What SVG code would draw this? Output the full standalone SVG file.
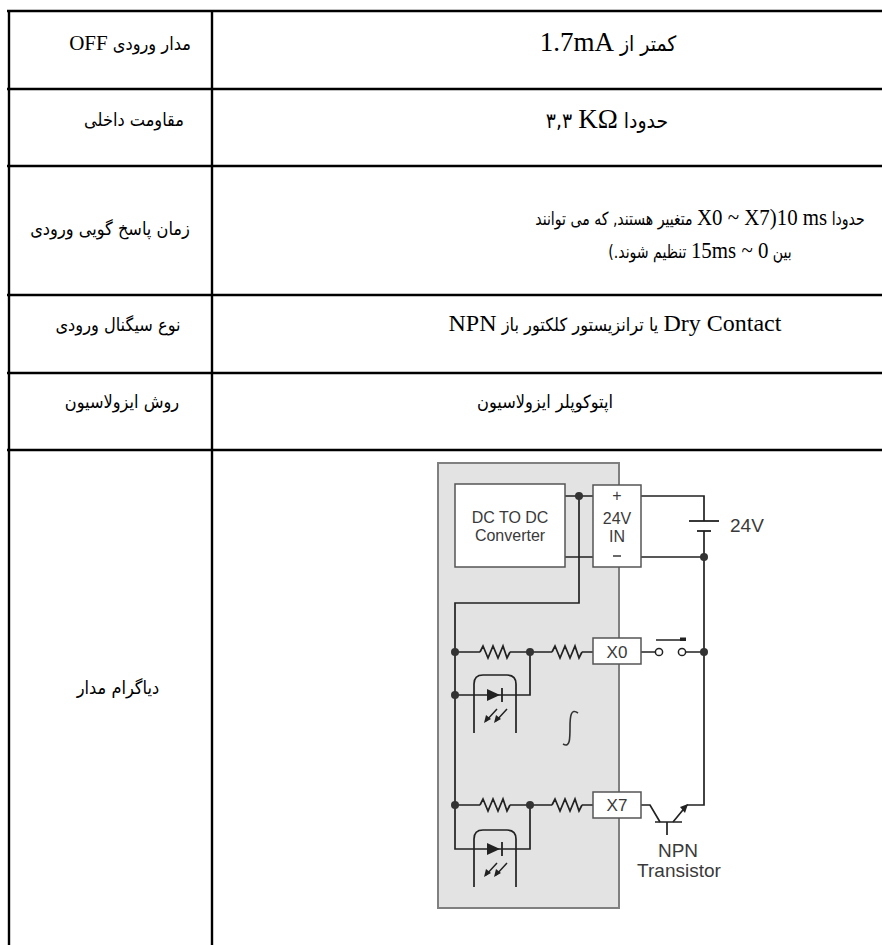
<svg xmlns="http://www.w3.org/2000/svg" width="882" height="945" viewBox="0 0 882 945">
<style>
.grid{stroke:#000;stroke-width:2.4;fill:none}
.t{font-family:"DejaVu Sans","Liberation Serif",serif;font-size:18px;font-stretch:condensed;fill:#000;text-anchor:middle}
.lat{font-family:"Liberation Serif","Times New Roman",serif;font-size:24px;font-stretch:normal}
.big{font-size:21px}
.big .lat{font-size:27px}
.w{stroke:#222;stroke-width:1.7;fill:none}
.dot{fill:#333}
.box{fill:#fff;stroke:#555;stroke-width:1.5}
.lbl{font-family:"Liberation Sans",Arial,sans-serif;fill:#3a3a3a;text-anchor:middle}
</style>
<rect width="882" height="945" fill="#fff"/>
<g id="table">
<line class="grid" x1="7" y1="11" x2="882" y2="11"/>
<line class="grid" x1="7" y1="89" x2="882" y2="89"/>
<line class="grid" x1="7" y1="166" x2="882" y2="166"/>
<line class="grid" x1="7" y1="295" x2="882" y2="295"/>
<line class="grid" x1="7" y1="373" x2="882" y2="373"/>
<line class="grid" x1="7" y1="450" x2="882" y2="450"/>
<line class="grid" x1="9" y1="10" x2="9" y2="945"/>
<line class="grid" x1="212" y1="10" x2="212" y2="945"/>
</g>
<g id="row1">
<text class="t" x="130" y="50" direction="rtl">مدار ورودی <tspan class="lat" style="font-size:21px">OFF</tspan></text>
<text class="t big" x="608" y="51" direction="rtl">کمتر از <tspan class="lat">1.7mA</tspan></text>
</g>
<g id="row2">
<text class="t" x="134" y="126" direction="rtl">مقاومت داخلی</text>
<text class="t big" x="607" y="128" direction="rtl">حدودا <tspan class="lat">KΩ</tspan> &#x200F;۳,۳</text>
</g>
<g id="row3">
<text class="t" x="110" y="235" direction="rtl">زمان پاسخ گویی ورودی</text>
<text class="t" x="700" y="225" direction="rtl" transform="matrix(0.87,0,0,1,91,0)">حدودا <tspan class="lat">X0 ~ X7)10 ms</tspan> متغییر هستند, که می توانند</text>
<text class="t" x="700" y="258" direction="rtl" transform="matrix(0.87,0,0,1,91,0)">بین <tspan class="lat">&#x200E;15ms ~ 0</tspan> تنظیم شوند.)</text>
</g>
<g id="row4">
<text class="t" x="118" y="331" direction="rtl">نوع سیگنال ورودی</text>
<text class="t" x="615" y="331" direction="rtl"><tspan class="lat">Dry Contact</tspan> یا ترانزیستور کلکتور باز <tspan class="lat">NPN</tspan></text>
</g>
<g id="row5">
<text class="t" x="122" y="408" direction="rtl">روش ایزولاسیون</text>
<text class="t" x="545" y="408" direction="rtl">اپتوکوپلر ایزولاسیون</text>
</g>
<g id="row6">
<text class="t" x="118" y="694" direction="rtl">دیاگرام مدار</text>
</g>
<g id="module">
<rect x="438" y="463" width="181" height="445" fill="#e3e3e3" stroke="#808080" stroke-width="2"/>
</g>
<g id="connectors">
<path class="w" d="M565,496 H593 M579,496 V603 H455 V849 H530 V805 M565,557 H593"/>
<path class="w" d="M641,496 H704 V521 M704,531 V805 H687 M641,557 H704"/>
<path class="w" d="M455,652 H480 M510,652 H552 M582,652 H593 M455,695 H530 V652"/>
<path class="w" d="M641,652 H655.5 M685.5,652 H704"/>
<path class="w" d="M455,805 H480 M510,805 H552 M582,805 H593"/>
<path class="w" d="M480,652 l3,-6 l5,12 l5,-12 l5,12 l5,-12 l4,12 l3,-6 M552,652 l3,-6 l5,12 l5,-12 l5,12 l5,-12 l4,12 l3,-6"/>
<path class="w" d="M480,805 l3,-6 l5,12 l5,-12 l5,12 l5,-12 l4,12 l3,-6 M552,805 l3,-6 l5,12 l5,-12 l5,12 l5,-12 l4,12 l3,-6"/>
<path class="w" d="M641,805 H650 L660,822 M673,822 L687,805"/>
<path d="M578,713 C571,708 570,716 570,727 C570,739 570,748 563,744" fill="none" stroke="#333" stroke-width="1.6"/>
</g>
<g id="dcdc">
<rect class="box" x="455" y="484" width="110" height="83" stroke="#333"/>
<text class="lbl" x="510" y="523" font-size="16">DC TO DC</text>
<text class="lbl" x="510" y="541" font-size="16">Converter</text>
</g>
<g id="in24">
<rect class="box" x="593" y="485" width="48" height="82"/>
<text class="lbl" x="617" y="501" font-size="16">+</text>
<text class="lbl" x="617" y="524" font-size="16">24V</text>
<text class="lbl" x="617" y="542" font-size="16">IN</text>
<path d="M613,556 H621" stroke="#444" stroke-width="1.6"/>
</g>
<g id="battery">
<path d="M689,521 H719" stroke="#222" stroke-width="1.8"/>
<path d="M697,531 H711" stroke="#222" stroke-width="1.8"/>
<text class="lbl" x="730" y="532" font-size="19" style="text-anchor:start">24V</text>
</g>
<g id="dots">
<circle class="dot" cx="579" cy="496" r="4"/>
<circle class="dot" cx="704" cy="557" r="4"/>
<circle class="dot" cx="455" cy="652" r="4"/>
<circle class="dot" cx="530" cy="652" r="4"/>
<circle class="dot" cx="704" cy="652" r="4"/>
<circle class="dot" cx="455" cy="695" r="4"/>
<circle class="dot" cx="455" cy="805" r="4"/>
<circle class="dot" cx="530" cy="805" r="4"/>
</g>
<g id="x0">
<rect class="box" x="593" y="638" width="48" height="26"/>
<text class="lbl" x="617" y="658" font-size="17">X0</text>
</g>
<g id="x7">
<rect class="box" x="593" y="792" width="48" height="26"/>
<text class="lbl" x="617" y="811" font-size="17">X7</text>
</g>
<g id="switch">
<circle cx="659" cy="652" r="3.6" fill="#fff" stroke="#222" stroke-width="1.5"/>
<circle cx="682" cy="652" r="3.6" fill="#fff" stroke="#222" stroke-width="1.5"/>
<path d="M656,640 H686" stroke="#222" stroke-width="1.5"/>
<rect x="680" y="637.5" width="6" height="3.5" fill="#222"/>
</g>
<g id="opto1">
<path class="w" d="M474,733 V684 Q474,675 483,675 H507 Q516,675 516,684 V733"/>
<polygon points="487,689 487,701 500,695" fill="#222"/>
<path d="M502,688 V702" stroke="#222" stroke-width="1.8"/>
<path d="M497,709 L486,721 M507,709 L496,721" stroke="#222" stroke-width="1.5"/>
<polygon points="484,723 486,715 491,719" fill="#222"/>
<polygon points="494,723 496,715 501,719" fill="#222"/>
</g>
<g id="opto2">
<path class="w" d="M474,887 V839 Q474,830 483,830 H507 Q516,830 516,839 V887"/>
<polygon points="487,843 487,855 500,849" fill="#222"/>
<path d="M502,842 V856" stroke="#222" stroke-width="1.8"/>
<path d="M497,863 L486,875 M507,863 L496,875" stroke="#222" stroke-width="1.5"/>
<polygon points="484,877 486,869 491,873" fill="#222"/>
<polygon points="494,877 496,869 501,873" fill="#222"/>
</g>
<g id="transistor">
<path d="M655,822 H682 M667,822 V835" stroke="#222" stroke-width="1.7"/>
<polygon points="688,804 680,807 685,813" fill="#222"/>
<text class="lbl" x="678" y="857" font-size="19">NPN</text>
<text class="lbl" x="679" y="877" font-size="19">Transistor</text>
</g>
</svg>
